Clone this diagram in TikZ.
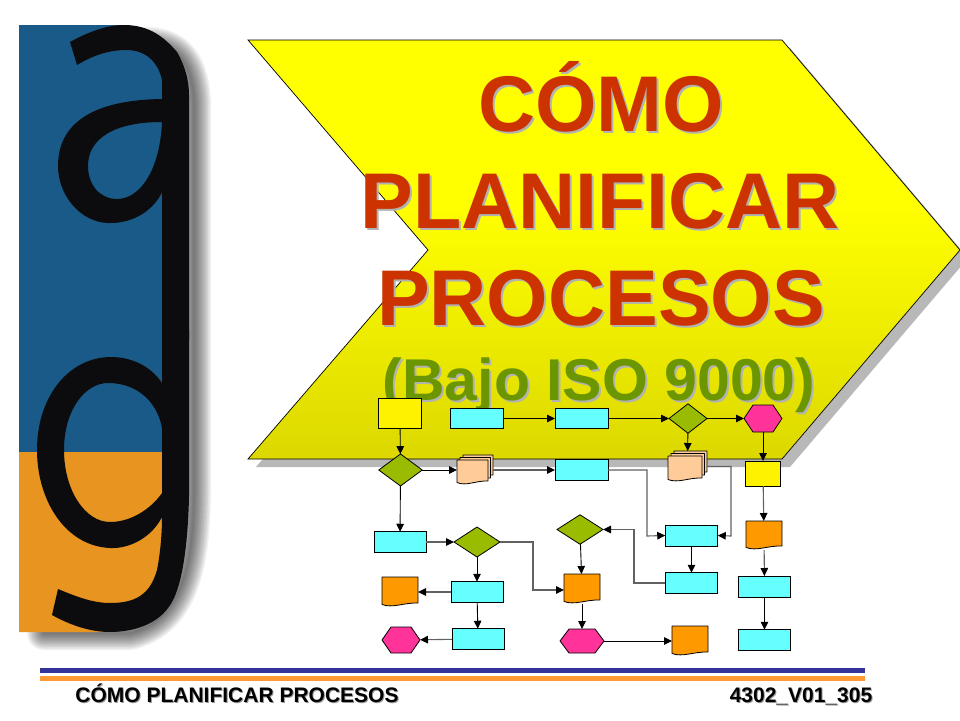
\documentclass[tikz,border=0pt]{standalone}
\usepackage{fontspec}
\setmainfont{Liberation Sans}
\usetikzlibrary{arrows.meta,shapes.geometric}
\definecolor{logoblue}{RGB}{26,90,136}
\definecolor{logoorange}{RGB}{231,148,32}
\definecolor{logoblack}{RGB}{12,12,14}
\definecolor{titlered}{RGB}{204,51,0}
\definecolor{titlegreen}{RGB}{108,150,0}
\definecolor{arrowtop}{RGB}{255,255,0}
\definecolor{arrowbot}{RGB}{220,216,0}
\definecolor{fccyan}{RGB}{102,255,255}
\definecolor{fcgreen}{RGB}{153,187,0}
\definecolor{fcorange}{RGB}{255,153,0}
\definecolor{fcpink}{RGB}{255,51,153}
\definecolor{fcpeach}{RGB}{255,204,153}
\definecolor{barblue}{RGB}{51,51,153}
\definecolor{barorange}{RGB}{255,153,51}
\pgfdeclareverticalshading{chevronfill}{100bp}{color(0bp)=(arrowbot); color(25bp)=(arrowbot); color(55bp)=(arrowtop); color(100bp)=(arrowtop)}
\tikzset{
  fcbase/.style={draw=black,line width=0.8pt,inner sep=0pt,outer sep=0pt},
  cyanbox/.style={fcbase,rectangle,fill=fccyan,minimum width=#1,minimum height=20.5pt},
  yellowbox/.style={fcbase,rectangle,fill=yellow},
  decision/.style={fcbase,diamond,fill=fcgreen},
  ghost/.style={inner sep=0pt,outer sep=0pt,rectangle},
  link/.style={draw=black,line width=0.9pt,-{Triangle[length=8pt,width=7.5pt]}},
  elbow/.style={draw=black!62,line width=1.1pt,-{Triangle[length=8pt,width=7.5pt,color=black]}},
  bigtitle/.style={anchor=base,font=\bfseries\fontsize{79}{79}\selectfont,text=titlered,inner sep=0pt},
  subtitle/.style={anchor=base,font=\bfseries\fontsize{59}{59}\selectfont,text=titlegreen,inner sep=0pt},
  footertext/.style={anchor=base,font=\bfseries\fontsize{21}{21}\selectfont,inner sep=0pt},
  sheet/.style={draw=black,line width=0.8pt,fill=#1}
}
\newcommand{\sheetat}[5]{%
  \draw[sheet=#5,line join=round] (#1,#2) -- (#3,#2) -- (#3,#4-4)
    .. controls ({#1+(#3-#1)*0.6},#4-4.5) and ({#1+(#3-#1)*0.3},#4+1.5) .. (#1,#4-2.5) -- cycle;}
\newcommand{\docnode}[6]{%
  \sheetat{#2}{#3}{#4}{#5}{#6}
  \node[ghost,minimum width=#4pt-#2pt,minimum height=#5pt-#3pt] (#1) at ({(#2+#4)/2},{(#3+#5)/2}) {};}
\newcommand{\stacknode}[5]{%
  \sheetat{#2+6}{#3}{#4}{#5-6}{fcpeach}
  \sheetat{#2+3}{#3+2.5}{#4-2.5}{#5-3}{fcpeach}
  \sheetat{#2}{#3+5}{#4-5}{#5}{fcpeach}
  \node[ghost,minimum width=#4pt-#2pt,minimum height=#5pt-#3pt] (#1) at ({(#2+#4)/2},{(#3+#5)/2}) {};}
\newcommand{\hexnode}[5]{%
  \draw[fill=fcpink,draw=black,line width=0.8pt,line join=miter]
    (#2,{(#3+#5)/2}) -- (#2+9,#3) -- (#4-9,#3) -- (#4,{(#3+#5)/2}) -- (#4-9,#5) -- (#2+9,#5) -- cycle;
  \node[ghost,minimum width=#4pt-#2pt,minimum height=#5pt-#3pt] (#1) at ({(#2+#4)/2},{(#3+#5)/2}) {};}
\begin{document}
\begin{tikzpicture}[x=1pt,y=-1pt]
\useasboundingbox (0,0) rectangle (960,720);
\fill[white] (0,0) rectangle (960,720);

% logo shadow
\foreach \w in {34,31,28,25,22,19,16,13,10,7,4,1}{
  \draw[black,opacity=0.06,fill opacity=0.06,line width=\w pt,line join=round]
    (44,44) -- (150,44) .. controls (182,46) and (192,70) .. (194,100)
    -- (194,495) .. controls (193,560) and (184,620) .. (130,633)
    -- (44,633) -- cycle;
}

% logo panel
\fill[logoblue] (19,25) -- (124,25) -- (170,60) -- (170,452.5) -- (19,452.5) -- cycle;
\fill[logoorange] (19,452) -- (170,452) -- (170,600) -- (110,631) -- (100,632) -- (19,632) -- cycle;

% letter a
\fill[logoblack,even odd rule]
  (70,42) .. controls (90,31) and (108,25) .. (124,25)
  .. controls (150,25) and (165,38) .. (177,52)
  .. controls (185,66) and (189,80) .. (189,95)
  -- (189,340) -- (162,340) -- (162,192)
  .. controls (155,208) and (135,224) .. (108,223)
  .. controls (80,222) and (58,195) .. (58,166)
  .. controls (58,125) and (90,100) .. (162,99)
  -- (162,80) .. controls (158,62) and (146,50) .. (126,50)
  .. controls (108,50) and (92,56) .. (77,65) -- cycle
  (162,122) .. controls (115,122) and (88,138) .. (88,166)
  .. controls (88,185) and (100,199) .. (117,199)
  .. controls (140,199) and (160,170) .. (162,122) -- cycle;

% letter g
\fill[logoblack,even odd rule]
  (162,330) -- (189,330) -- (189,497)
  .. controls (188,540) and (183,590) .. (168,608)
  .. controls (155,626) and (130,632) .. (110,632)
  .. controls (90,632) and (70,625) .. (52,615)
  -- (58,589) .. controls (75,596) and (92,603) .. (110,603)
  .. controls (135,603) and (150,595) .. (157,570)
  .. controls (160,555) and (162,535) .. (162,517)
  .. controls (152,537) and (130,549) .. (110,548)
  .. controls (65,546) and (37,500) .. (37,450)
  .. controls (37,395) and (70,357) .. (111,357)
  .. controls (130,357) and (150,365) .. (162,383) -- cycle
  (162,428) .. controls (158,405) and (140,383) .. (108,383)
  .. controls (85,383) and (64,410) .. (64,450)
  .. controls (64,490) and (85,522) .. (110,522)
  .. controls (130,522) and (150,510) .. (162,493) -- cycle;

% big chevron
\fill[black!28] (256,48) -- (790,48) -- (968,258) -- (790,467) -- (256,467) -- (436,258) -- cycle;
\shade[shading=chevronfill] (248,40) -- (782,40) -- (960,250) -- (782,459) -- (248,459) -- (428,250) -- cycle;
\draw[black,line width=0.7pt,line join=miter] (248,40) -- (782,40) -- (960,250) -- (782,459) -- (248,459) -- (428,250) -- cycle;

% title
\node[bigtitle,text=black!30] at (603,133) {CÓMO};
\node[bigtitle,text=black!30] at (602,230) {PLANIFICAR};
\node[bigtitle,text=black!30] at (603,327) {PROCESOS};
\node[subtitle,text=black!30] at (601,402) {(Bajo ISO 9000)};
\node[bigtitle] (t1) at (601,131) {CÓMO};
\node[bigtitle] (t2) at (600,228) {PLANIFICAR};
\node[bigtitle] (t3) at (601,325) {PROCESOS};
\node[subtitle] (t4) at (599,400) {(Bajo ISO 9000)};

% flowchart nodes
\node[yellowbox,minimum width=43.5pt,minimum height=30pt] (y1) at (400,413) {};
\node[cyanbox=53pt] (c1) at (476.5,418.5) {};
\node[cyanbox=53pt] (c2) at (581.5,418.5) {};
\node[decision,minimum width=38pt,minimum height=29.5pt] (d4) at (688,418.5) {};
\hexnode{h3}{744}{405}{782}{432}
\node[decision,minimum width=43.5pt,minimum height=32pt] (d1) at (400.5,470) {};
\stacknode{s1}{457}{455}{493}{485}
\node[cyanbox=53pt] (c3) at (581.5,470) {};
\stacknode{s2}{668}{451}{707}{482}
\node[yellowbox,minimum width=35pt,minimum height=25pt] (y2) at (763,473.5) {};
\docnode{o4}{746}{521}{782}{550}{fcorange}
\node[decision,minimum width=46pt,minimum height=29.5pt] (d3) at (580,529.5) {};
\node[cyanbox=52pt] (c4) at (400,542) {};
\node[decision,minimum width=46pt,minimum height=30pt] (d2) at (477,542) {};
\node[cyanbox=52.5pt,minimum height=21pt] (c7) at (691.5,535.5) {};
\node[cyanbox=52.5pt] (c8) at (691.5,583) {};
\node[cyanbox=52.5pt,minimum height=21pt] (c9) at (764.5,586.5) {};
\docnode{o1}{382}{577}{418}{607}{fcorange}
\node[cyanbox=52pt] (c5) at (477,592) {};
\docnode{o2}{564}{574}{600}{604}{fcorange}
\hexnode{h1}{382}{627}{420}{653}
\node[cyanbox=52pt] (c6) at (478,639) {};
\hexnode{h2}{560}{629}{604}{653}
\docnode{o3}{672}{626}{708}{656}{fcorange}
\node[cyanbox=52.5pt] (c10) at (764.5,640) {};

% connectors
\draw[link] (y1) -- (d1);
\draw[link] (c1) -- (c2);
\draw[link] (c2) -- (d4);
\draw[link] (d4) -- (h3);
\draw[link] (d4) -- (s2);
\draw[link] (h3) -- (y2);
\draw[link] (d1) -- (s1);
\draw[elbow] (s1) -- (c3);
\draw[link] (d1) -- (c4);
\draw[elbow] (c4) -- (d2);
\draw[link] (d2) -- (c5);
\draw[elbow] (c5) -- (o1);
\draw[link] (c5) -- (c6);
\draw[elbow] (c6) -- (h1);
\draw[elbow] (d2.east) -| (533,590) -- (o2.west |- 0,590);
\draw[link] (d3) -- (o2);
\draw[link] (o2) -- (h2);
\draw[link] (h2) -- (o3);
\draw[elbow] (c3.east) -| (647,536) -- (c7.west);
\draw[elbow] (s2.east) -| (731,536) -- (c7.east);
\draw[link] (c7) -- (c8);
\draw[elbow] (c8.west) -| (634,529.5) -- (d3.east);
\draw[elbow] (y2) -- (o4);
\draw[elbow] (o4) -- (c9);
\draw[link] (c9) -- (c10);

% footer
\fill[barblue] (40,668) rectangle (865,673);
\fill[barorange] (40,676) rectangle (865,681);
\node[footertext,text=black!40] at (238,703) {CÓMO PLANIFICAR PROCESOS};
\node[footertext,text=black!40] at (802,703) {4302\_V01\_305};
\node[footertext] (f1) at (237,702) {CÓMO PLANIFICAR PROCESOS};
\node[footertext] (f2) at (801,702) {4302\_V01\_305};
\end{tikzpicture}
\end{document}
